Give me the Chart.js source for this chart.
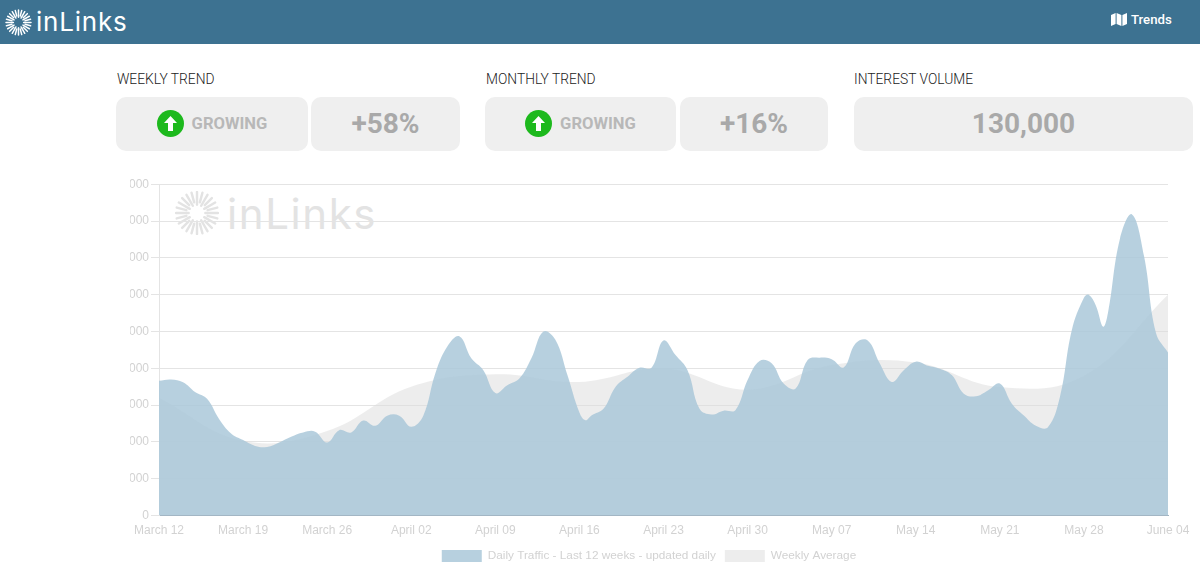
<!DOCTYPE html>
<html><head><meta charset="utf-8">
<script src="https://cdn.jsdelivr.net/npm/chart.js@4"></script>
<style>
html,body{margin:0;padding:0;background:#fff;width:1200px;height:588px;overflow:hidden;font-family:Roboto,sans-serif}
.abs{position:absolute}
#hdr{left:0;top:0;width:1200px;height:44px;background:#3d7291}
.logo{font-family:Inter,sans-serif;line-height:1}
.lbl{font:300 13.8px Roboto;color:#222;top:71px}
.card{background:#efefef;border-radius:10px;top:97px;height:54px;display:flex;align-items:center;justify-content:center;font-weight:700;color:#a9a9a9;font-size:28px;padding-bottom:2px;box-sizing:border-box}
.grow{font-size:16.6px;color:#b8b8b8;margin-left:8px}
#wrap{left:116px;top:175px;width:1084px;height:402px}
</style></head><body>
<div id="hdr" class="abs"></div>
<svg id="icon1" class="abs" style="left:5px;top:9px" width="27" height="27"></svg>
<div class="abs logo" style="left:36px;top:9px;font-size:26px;color:#fff;letter-spacing:.8px">inLinks</div>
<svg class="abs" style="left:1111px;top:13px" width="16" height="13" viewBox="0 0 16 13"><path d="M0 2 L4.6 0 V11 L0 13Z M5.6 0 L10.4 2 V13 L5.6 11Z M11.4 2 L16 0 V11 L11.4 13Z" fill="#fff"/></svg>
<div class="abs" style="left:1131px;top:12px;font:500 13.2px Roboto;color:#fff">Trends</div>

<div class="abs lbl" style="left:117px">WEEKLY TREND</div>
<div class="abs lbl" style="left:486px">MONTHLY TREND</div>
<div class="abs lbl" style="left:854px">INTEREST VOLUME</div>

<div class="abs card" style="left:116px;width:192px"><svg width="27" height="27" viewBox="0 0 27 27"><circle cx="13.5" cy="13.5" r="13.5" fill="#1db91d"/><path d="M13.5 6 L20 13 H16 V21 H11 V13 H7Z" fill="#fff"/></svg><span class="grow">GROWING</span></div>
<div class="abs card" style="left:311px;width:149px">+58%</div>
<div class="abs card" style="left:485px;width:191px"><svg width="27" height="27" viewBox="0 0 27 27"><circle cx="13.5" cy="13.5" r="13.5" fill="#1db91d"/><path d="M13.5 6 L20 13 H16 V21 H11 V13 H7Z" fill="#fff"/></svg><span class="grow">GROWING</span></div>
<div class="abs card" style="left:680px;width:148px">+16%</div>
<div class="abs card" style="left:854px;width:339px">130,000</div>

<svg id="icon2" class="abs" style="left:175px;top:191px" width="44" height="44"></svg>
<div class="abs logo" style="left:227px;top:193px;font-size:42px;color:#e3e3e3;letter-spacing:1.6px">inLinks</div>

<div id="wrap" class="abs"><canvas id="c"></canvas></div>
<script>
const weekLabels = ["March 12","March 19","March 26","April 02","April 09","April 16","April 23","April 30","May 07","May 14","May 21","May 28","June 04"];
const weeklyDays = [0,7,14,21,28,35,42,49,56,63,70,77,84];
const weeklyValues = [3200,2030,2300,3500,3840,3630,4000,3420,4090,4160,3490,3800,6000];
const dailyDays = [0,1,2,3,4,5,6,7,8,9,10,11,12,13,14,15,16,17,18,19,20,21,22,23,24,25,26,27,28,29,30,31,32,33,34,35,35.5,36,37,38,39,40,41,42,43,44,45,46,47,48,49,50,51,52,53,54,55,56,57,58,59,60,61,62,63,64,65,66,67,68,69,70,71,72,73,74,75,76,77,77.4,78,78.6,79,80,81,82,83,84];
const dailyValues = [3660,3695,3620,3357,3170,2625,2230,2050,1893,1866,1985,2140,2260,2280,1985,2320,2260,2580,2440,2715,2715,2415,2715,3860,4590,4870,4270,3950,3330,3540,3720,4270,5000,4775,3815,2800,2590,2720,2900,3495,3770,4015,4015,4756,4360,3950,2900,2745,2850,2870,3680,4200,4135,3585,3450,4225,4290,4245,4025,4680,4756,4135,3630,3950,4180,4070,3990,3815,3310,3240,3400,3585,3037,2717,2440,2400,3220,5050,5918,6000,5700,5130,5500,7520,8180,7060,4960,4430];
const seriesNames = ["Daily Traffic - Last 12 weeks - updated daily","Weekly Average"];

function burst(id,r){
  const s=document.getElementById(id), col=id==='icon1'?'#fff':'#e3e3e3', c=r, n=24;
  let h='';
  for(let i=0;i<n;i++){
    const a=i/n*2*Math.PI, r0=r*(i%2?0.5:0.38), x0=c+r0*Math.cos(a), y0=c+r0*Math.sin(a), x1=c+(r-1)*Math.cos(a), y1=c+(r-1)*Math.sin(a);
    h+=`<line x1="${x0}" y1="${y0}" x2="${x1}" y2="${y1}" stroke="${col}" stroke-width="${r/9}" stroke-linecap="round"/>`;
  }
  s.innerHTML=h;
}
burst('icon1',13.5);burst('icon2',22);

const toXY=(xs,ys)=>xs.map((x,i)=>({x,y:ys[i]}));
new Chart(document.getElementById('c'),{
  type:'line',
  data:{datasets:[
    {label:seriesNames[0],data:toXY(dailyDays,dailyValues),fill:'origin',backgroundColor:'rgba(170,200,217,0.85)',borderWidth:0,pointRadius:0,tension:0.4,order:1},
    {label:seriesNames[1],data:toXY(weeklyDays,weeklyValues),fill:'origin',backgroundColor:'rgba(220,220,220,0.5)',borderWidth:0,pointRadius:0,tension:0.4,order:2}
  ]},
  options:{
    responsive:true,maintainAspectRatio:false,animation:false,
    layout:{padding:{left:14,right:32,top:7,bottom:5}},
    plugins:{tooltip:{enabled:false},legend:{display:true,position:'bottom',labels:{boxWidth:40,boxHeight:12,color:'#d2d2d2',font:{family:'Liberation Sans',size:11.8},padding:9}}},
    scales:{
      x:{type:'linear',min:0,max:84,
        afterBuildTicks:a=>{a.ticks=weeklyDays.map(v=>({value:v}));},
        afterFit:a=>{a.height+=3;},
        ticks:{autoSkip:false,maxRotation:0,color:'#d2d2d2',font:{family:'Liberation Sans',size:12},padding:0,callback:v=>weekLabels[weeklyDays.indexOf(v)]},
        grid:{display:false},border:{color:'#9fb3c1',width:1}},
      y:{min:0,max:9000,
        afterFit:a=>{a.width=29;},
        ticks:{stepSize:1000,color:'#d2d2d2',font:{family:'Liberation Sans',size:12},padding:2,callback:v=>String(v)},
        grid:{color:'#e4e4e4',tickLength:8},border:{color:'#e4e4e4'}}
    }
  }
});
</script>
</body></html>
